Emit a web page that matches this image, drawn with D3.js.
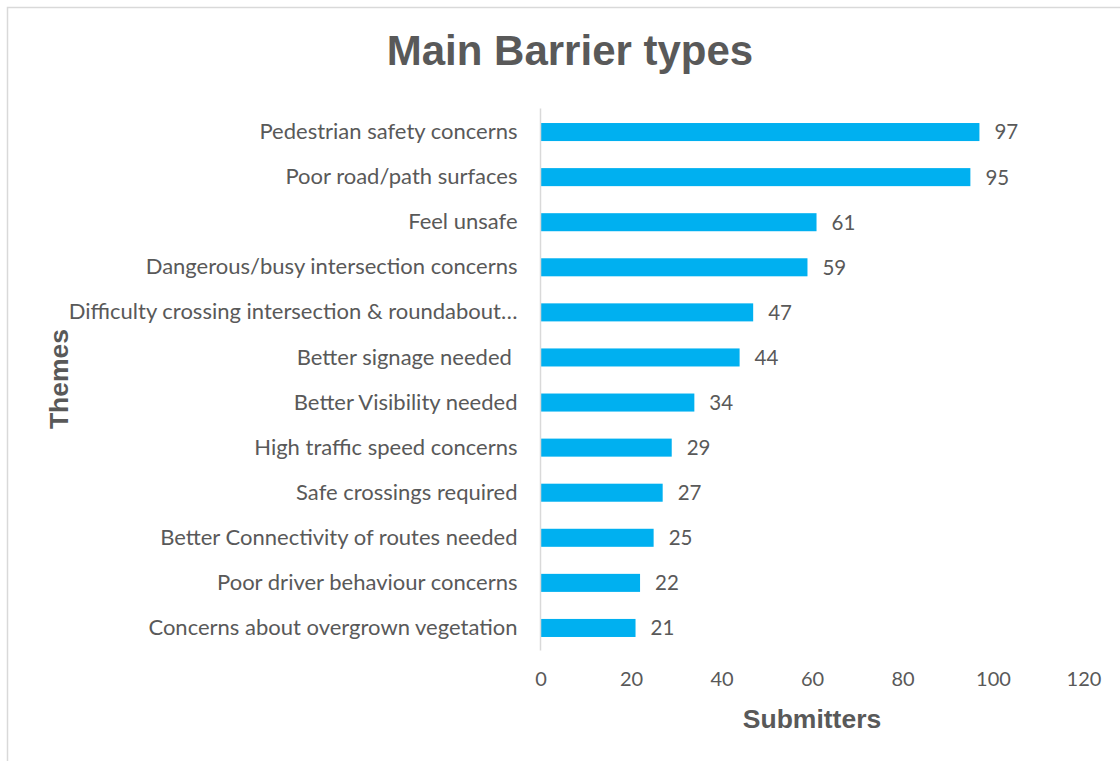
<!DOCTYPE html>
<html>
<head>
<meta charset="utf-8">
<script src="https://cdn.jsdelivr.net/npm/d3@7"></script>
<style>
  html, body { margin: 0; padding: 0; background: #fff; }
  svg { display: block; }
  text { white-space: pre; }
</style>
</head>
<body>
<svg id="chart" width="1120" height="761"></svg>
<script>
// Barrier themes and number of submitters mentioning each
const themes = [
  "Pedestrian safety concerns",
  "Poor road/path surfaces",
  "Feel unsafe",
  "Dangerous/busy intersection concerns",
  "Difficulty crossing intersection & roundabout\u2026",
  "Better signage needed ",
  "Better Visibility needed",
  "High traffic speed concerns",
  "Safe crossings required",
  "Better Connectivity of routes needed",
  "Poor driver behaviour concerns",
  "Concerns about overgrown vegetation"
];
const submitters = [97, 95, 61, 59, 47, 44, 34, 29, 27, 25, 22, 21];
const xTicks = [0, 20, 40, 60, 80, 100, 120];

const chartTitle = "Main Barrier types";
const xTitle = "Submitters";
const yTitle = "Themes";

const rows = themes.map((t, i) => ({ theme: t, value: submitters[i] }));

const svg = d3.select("#chart");
const textColor = "#595959";
const barColor = "#00B0F0";
const labelFont = "Lato, 'Open Sans', sans-serif";
const titleFont = "'Liberation Sans', Arial, sans-serif";

// chart frame
svg.append("rect")
  .attr("x", 7.5).attr("y", 7.5)
  .attr("width", 1130).attr("height", 780)
  .attr("fill", "#fff")
  .attr("stroke", "#d9d9d9").attr("stroke-width", 1.5);

const plot = { left: 540.5, right: 1083.5, top: 109.5, bottom: 650.5 };

const x = d3.scaleLinear().domain([0, 120]).range([plot.left, plot.right]);
const y = d3.scaleBand().domain(themes).range([plot.top, plot.bottom]).paddingInner(0.6).paddingOuter(0.3);

// bars
svg.append("g").selectAll("rect")
  .data(rows).join("rect")
  .attr("x", x(0))
  .attr("y", d => y(d.theme))
  .attr("width", d => x(d.value) - x(0))
  .attr("height", y.bandwidth())
  .attr("fill", barColor);

// category axis
const yAxis = svg.append("g")
  .attr("transform", `translate(${plot.left},0)`)
  .call(d3.axisLeft(y).tickSize(0).tickPadding(23));
yAxis.select(".domain")
  .attr("d", `M0,${plot.top - 1}V${plot.bottom}`)
  .attr("stroke", "#d9d9d9").attr("stroke-width", 1.5);
yAxis.selectAll("text")
  .attr("fill", textColor)
  .style("font-family", labelFont)
  .style("font-size", "22px");

// value axis (labels only)
const xAxis = svg.append("g")
  .attr("transform", `translate(0,${plot.bottom})`)
  .call(d3.axisBottom(x).tickValues(xTicks).tickSize(0).tickPadding(21));
xAxis.select(".domain").remove();
xAxis.selectAll("text")
  .attr("fill", textColor)
  .style("font-family", labelFont)
  .style("font-size", "20px");

// value labels
svg.append("g").selectAll("text")
  .data(rows).join("text")
  .attr("x", d => x(d.value) + 15)
  .attr("y", d => y(d.theme) + y.bandwidth() / 2)
  .attr("dy", "0.36em")
  .attr("fill", textColor)
  .style("font-family", labelFont)
  .style("font-size", "20.5px")
  .text(d => d.value);

// titles
svg.append("text")
  .attr("x", 570).attr("y", 65)
  .attr("text-anchor", "middle")
  .attr("fill", textColor)
  .style("font-family", titleFont)
  .style("font-weight", "bold")
  .style("font-size", "42px")
  .text(chartTitle);

svg.append("text")
  .attr("x", (plot.left + plot.right) / 2).attr("y", 728)
  .attr("text-anchor", "middle")
  .attr("fill", textColor)
  .style("font-family", titleFont)
  .style("font-weight", "bold")
  .style("font-size", "26.5px")
  .text(xTitle);

svg.append("text")
  .attr("transform", `translate(68,${(plot.top + plot.bottom) / 2 - 1}) rotate(-90)`)
  .attr("text-anchor", "middle")
  .attr("fill", textColor)
  .style("font-family", titleFont)
  .style("font-weight", "bold")
  .style("font-size", "26.5px")
  .text(yTitle);
</script>
</body>
</html>
